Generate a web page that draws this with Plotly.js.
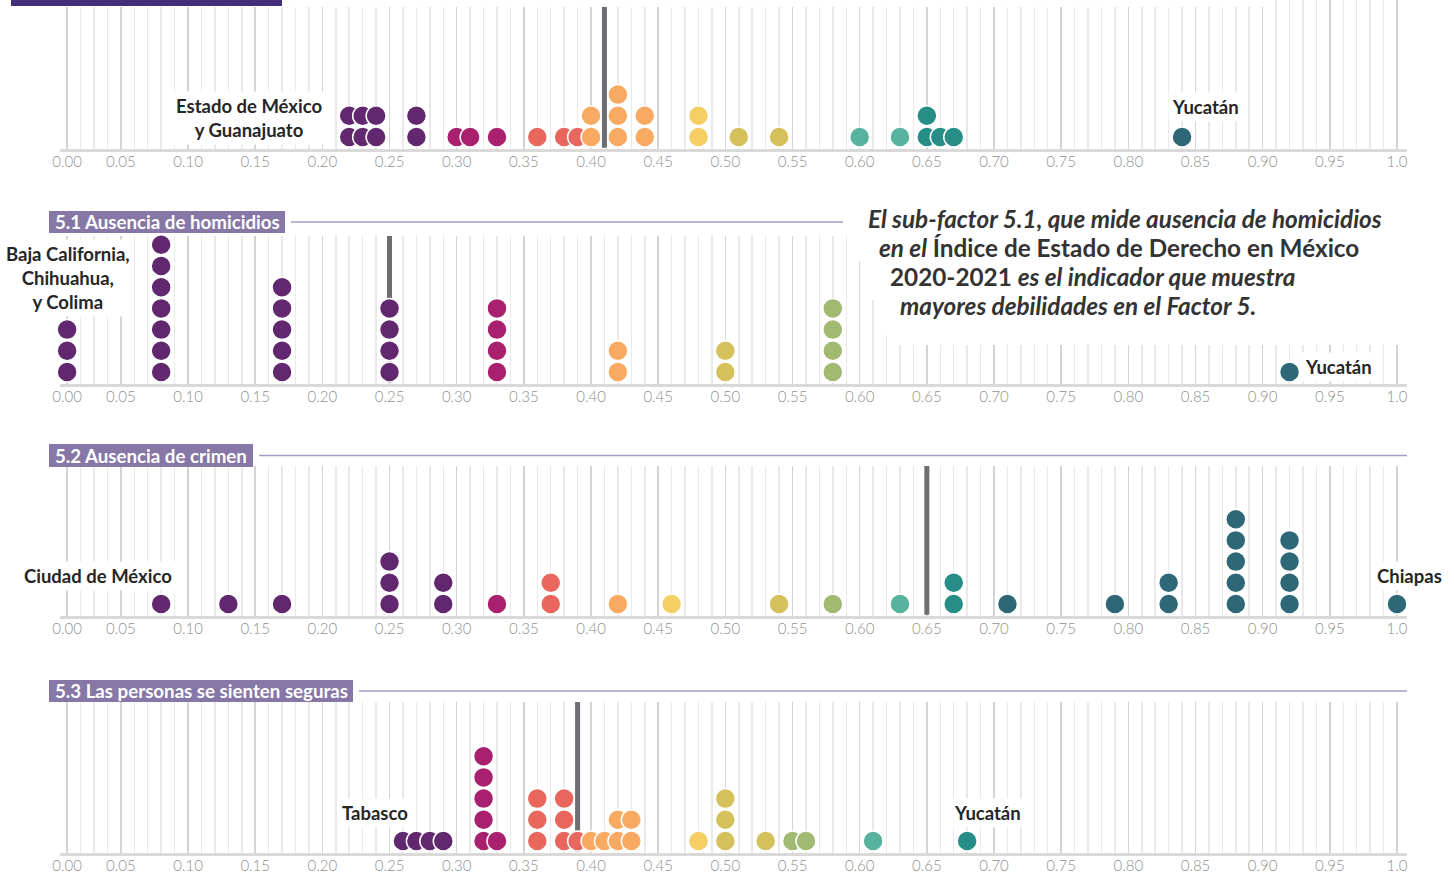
<!DOCTYPE html>
<html><head><meta charset="utf-8">
<script src="https://cdn.plot.ly/plotly-3.0.1.min.js"></script>
<style>html,body{margin:0;padding:0;background:#fff;}#chart{width:1454px;height:873px;}</style>
</head><body><div id="chart"></div>
<script>
// ---------- DATA ----------
const panelTitles = ["Factor 5: Orden y seguridad", "5.1 Ausencia de homicidios", "5.2 Ausencia de crimen", "5.3 Las personas se sienten seguras"];
const factor5 = [0.22,0.22,0.23,0.23,0.24,0.24,0.27,0.27,0.30,0.31,0.33,0.36,0.38,0.39,0.40,0.40,0.42,0.42,0.42,0.44,0.44,0.48,0.48,0.51,0.54,0.60,0.63,0.65,0.65,0.66,0.67,0.84];
const sub51 = [0.01,0.01,0.01,0.08,0.08,0.08,0.08,0.08,0.08,0.08,0.17,0.17,0.17,0.17,0.17,0.25,0.25,0.25,0.25,0.33,0.33,0.33,0.33,0.42,0.42,0.50,0.50,0.58,0.58,0.58,0.58,0.92];
const sub52 = [0.08,0.13,0.17,0.25,0.25,0.25,0.29,0.29,0.33,0.37,0.37,0.42,0.46,0.54,0.58,0.63,0.67,0.67,0.71,0.79,0.83,0.83,0.88,0.88,0.88,0.88,0.88,0.92,0.92,0.92,0.92,1.00];
const sub53 = [0.26,0.27,0.28,0.29,0.32,0.32,0.32,0.32,0.32,0.33,0.36,0.36,0.36,0.38,0.38,0.38,0.39,0.40,0.41,0.42,0.42,0.43,0.43,0.48,0.50,0.50,0.50,0.53,0.55,0.56,0.61,0.68];
const means = [0.41, 0.25, 0.65, 0.39];
const tickValues = [0.01,0.05,0.10,0.15,0.20,0.25,0.30,0.35,0.40,0.45,0.50,0.55,0.60,0.65,0.70,0.75,0.80,0.85,0.90,0.95,1.00];
const tickLabels = ["0.00","0.05","0.10","0.15","0.20","0.25","0.30","0.35","0.40","0.45","0.50","0.55","0.60","0.65","0.70","0.75","0.80","0.85","0.90","0.95","1.0"];
const colorBreaks = [0.30,0.35,0.40,0.45,0.50,0.55,0.60,0.65,0.70];
const colorPalette = ['#62286f','#a8206e','#e9665d','#f8aa62','#f6cf64','#d4c15b','#a1b971','#57b39e','#278d87','#2e6877'];
const labelTexts = [
  ["Estado de México<br>y Guanajuato", "Yucatán"],
  ["Baja California,<br>Chihuahua,<br>y Colima", "Yucatán"],
  ["Ciudad de México", "Chiapas"],
  ["Tabasco", "Yucatán"]
];
const noteLines = [
  "<b><i>El sub-factor 5.1, que mide ausencia de homicidios</i></b>",
  "<b><i>en el</i> Índice de Estado de Derecho en México</b>",
  "<b>2020-2021 <i>es el indicador que muestra</i></b>",
  "<b><i>mayores debilidades en el Factor 5.</i></b>"
];
const panels = [factor5, sub51, sub52, sub53];

// ---------- LAYOUT HELPERS ----------
const W = 1454, H = 873;
const X = px => px / W;
const Y = py => 1 - py / H;
const geom = [{top:0, axis:149}, {top:236, axis:384}, {top:466, axis:616}, {top:702, axis:853}];
const rowGap = 21.2, rowOffset = 12;
const zeroPx = 53.7, unitPx = 1343.3, axL = 60, axR = 1407;
const xRange = [(axL - zeroPx) / unitPx, (axR - zeroPx) / unitPx];

function colorOf(v) {
  let i = 0;
  while (i < colorBreaks.length && v >= colorBreaks[i] - 1e-9) i++;
  return colorPalette[i];
}

const traces = [];
const layout = {
  width: W, height: H,
  margin: {l:0, r:0, t:0, b:0},
  paper_bgcolor: '#fff', plot_bgcolor: 'rgba(0,0,0,0)',
  showlegend: false,
  shapes: [], annotations: [],
  font: {family: 'Lato, "Open Sans", sans-serif'}
};

panels.forEach((vals, i) => {
  const sfx = i === 0 ? '' : String(i + 1);
  const g = geom[i];
  const yr = [-rowOffset / rowGap, (g.axis - rowOffset - g.top) / rowGap];
  // mean line (drawn under the dots)
  traces.push({
    type: 'scatter', mode: 'lines', x: [means[i], means[i]], y: [yr[0] + 0.06, yr[1]],
    xaxis: 'x' + sfx, yaxis: 'y' + sfx,
    line: {color: '#6d6e71', width: 5}, hoverinfo: 'skip'
  });
  const counts = {};
  const ys = vals.map(v => { const k = v.toFixed(2); counts[k] = (counts[k] || 0); return counts[k]++; });
  traces.push({
    type: 'scatter', mode: 'markers', x: vals, y: ys,
    xaxis: 'x' + sfx, yaxis: 'y' + sfx,
    marker: {size: 20, color: vals.map(colorOf), line: {color: '#ffffff', width: 1.5}},
    hoverinfo: 'x', cliponaxis: false
  });
  layout['xaxis' + sfx] = {
    domain: [X(axL), X(axR)], range: xRange, anchor: 'y' + sfx,
    tickmode: 'array', tickvals: tickValues, ticktext: tickLabels,
    showgrid: true, gridcolor: '#d3d3d3', gridwidth: 1.5,
    minor: {tickmode: 'linear', tick0: 0, dtick: 0.01, showgrid: true, gridcolor: '#e9e9e9', gridwidth: 1.5, ticks: ''},
    showline: true, linecolor: '#d9d9d9', linewidth: 3,
    ticks: '', zeroline: false, fixedrange: true, ticklabelstandoff: -3,
    tickfont: {family: 'Lato', size: 15, color: '#909090', weight: 300}
  };
  layout['yaxis' + sfx] = {
    domain: [Y(g.axis), Y(g.top)], range: yr,
    anchor: 'x' + sfx, visible: false, fixedrange: true
  };
});

// white strip on top of the first panel (gridlines start lower on the left)
layout.shapes.push({type:'rect', xref:'paper', yref:'paper', x0:X(0), x1:X(1275), y0:Y(7), y1:Y(0), fillcolor:'#ffffff', line:{width:0}, layer:'above'});
// top title box (cut off at the top edge, as in the reference)
layout.shapes.push({type:'rect', xref:'paper', yref:'paper', x0:X(11), x1:X(282), y0:Y(6), y1:Y(0), fillcolor:'#44307a', line:{width:0}, layer:'above'});
layout.annotations.push({xref:'paper', yref:'paper', x:X(17), y:Y(3), xanchor:'left', yanchor:'bottom', showarrow:false,
  text:'<b>' + panelTitles[0] + '</b>', font:{family:'Lato', size:22, color:'#ffffff'}});

// sub-panel title boxes
const boxes = [null, {x0:49, x1:285, y0:211, y1:233, lx1:843}, {x0:49, x1:253, y0:444, y1:467, lx1:1407}, {x0:49, x1:353, y0:680, y1:702, lx1:1407}];
for (let i = 1; i < 4; i++) {
  const b = boxes[i];
  const yc = (b.y0 + b.y1) / 2;
  layout.shapes.push({type:'rect', xref:'paper', yref:'paper', x0:X(b.x0), x1:X(b.x1), y0:Y(b.y1), y1:Y(b.y0), fillcolor:'#8677a6', line:{width:0}, layer:'above'});
  layout.shapes.push({type:'line', xref:'paper', yref:'paper', x0:X(b.x1 + 6), x1:X(b.lx1), y0:Y(yc), y1:Y(yc), line:{color:'#a59bc6', width:1.5}, layer:'above'});
  layout.annotations.push({xref:'paper', yref:'paper', x:X(b.x0 + 4), y:Y(yc), xanchor:'left', yanchor:'middle', showarrow:false,
    text:'<b>' + panelTitles[i] + '</b>', font:{family:'Lato', size:18.7, color:'#ffffff'}});
}

// white cover behind the note text
[[856,200,262],[866,262,300],[880,300,335],[890,335,345]].forEach(r => {
  layout.shapes.push({type:'rect', xref:'paper', yref:'paper', x0:X(r[0]), x1:X(W), y0:Y(r[2]), y1:Y(r[1]), fillcolor:'#ffffff', line:{width:0}, layer:'above'});
});
const notePos = [[866,218],[877,247],[888,276],[898,305]];
noteLines.forEach((t, k) => {
  layout.annotations.push({xref:'paper', yref:'paper', x:X(notePos[k][0]), y:Y(notePos[k][1]), xanchor:'left', yanchor:'middle', showarrow:false,
    text:t, font:{family:'Lato', size:24.3, color:'#333333'}});
});

// state labels
const labelPos = [
  [[249,118],[1205,107]],
  [[68,278],[1338,367]],
  [[98,576],[1409,576]],
  [[375,813],[988,813]]
];
labelTexts.forEach((pair, i) => {
  pair.forEach((t, k) => {
    layout.annotations.push({xref:'paper', yref:'paper', x:X(labelPos[i][k][0]), y:Y(labelPos[i][k][1]), xanchor:'center', yanchor:'middle', showarrow:false,
      text:'<b>' + t + '</b>', align:'center', bgcolor:'#ffffff', borderpad:3,
      font:{family:'Lato', size:18.5, color:'#262626'}});
  });
});

Plotly.newPlot('chart', traces, layout, {displayModeBar:false, staticPlot:true});
</script></body></html>
